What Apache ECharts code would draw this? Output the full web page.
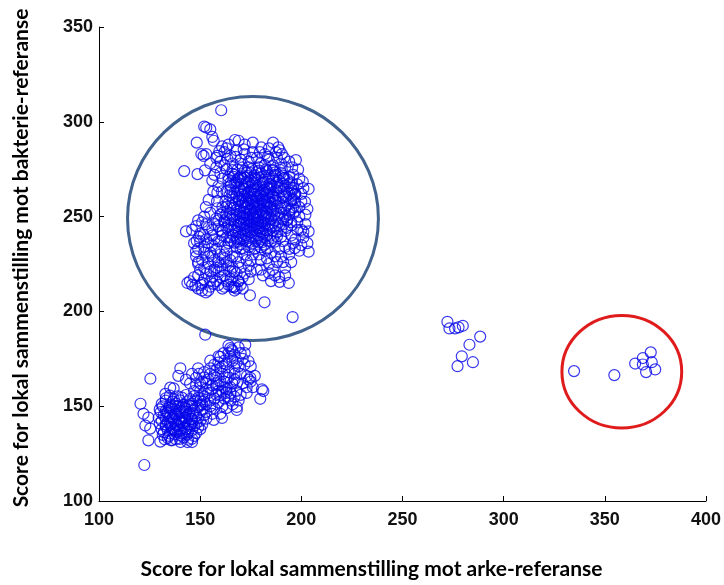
<!DOCTYPE html>
<html>
<head>
<meta charset="utf-8">
<title>Score for lokal sammenstilling</title>
<script src="https://cdn.jsdelivr.net/npm/echarts@6/dist/echarts.min.js"></script>
<style>
  html, body { margin: 0; padding: 0; background: #ffffff; }
  #chart { width: 724px; height: 585px; }
</style>
</head>
<body>
<div id="chart"></div>
<script>
// Axis ticks
const xTicks = [100, 150, 200, 250, 300, 350, 400];
const yTicks = [100, 150, 200, 250, 300, 350];

// Upper group: dense centre
const upperCore = [
  [166,272.5],[170,271.2],[173,273.1],[177,271.8],[180,272.9],[184,271.4],[187,273.3],[191,271.6],
  [164,269.3],[168,268.4],[171,269.9],[175,268.7],[178,269.5],[182,268.2],[186,270.1],[189,268.9],[193,269.6],
  [165,266.2],[169,265.4],[172,266.8],[176,265.9],[179,266.6],[183,265.1],[185,267.0],[188,265.7],[192,266.4],[195,265.2],
  [163,263.4],[167,262.6],[170,263.8],[174,262.9],[177,263.5],[180,262.2],[182,264.0],[186,262.8],[190,263.3],[194,262.1],
  [166,260.3],[169,259.5],[172,260.9],[175,259.8],[178,260.6],[181,259.2],[184,261.0],[187,259.7],[191,260.4],[195,259.1],
  [164,257.2],[167,256.5],[171,257.8],[174,256.7],[176,257.6],[179,256.2],[182,258.0],[185,256.8],[189,257.3],[193,256.1],[197,257.5],
  [165,254.4],[168,253.6],[172,254.9],[175,253.8],[177,254.6],[180,253.2],[183,255.0],[186,253.7],[190,254.3],[194,253.1],
  [163,251.3],[166,250.5],[170,251.9],[173,250.8],[176,251.6],[178,250.2],[181,252.0],[184,250.7],[188,251.4],[192,250.2],[196,251.5],
  [165,248.3],[169,247.5],[172,248.8],[174,247.7],[177,248.6],[180,247.2],[183,249.0],[187,247.8],[191,248.4],[195,247.1],
  [164,245.2],[167,244.4],[170,245.9],[173,244.8],[176,245.6],[179,244.2],[182,246.0],[185,244.7],[189,245.3],[193,244.1],
  [166,242.3],[169,241.5],[172,242.8],[175,241.7],[178,242.6],[181,241.2],[184,243.0],[188,241.8],[192,242.4],
  [165,239.2],[168,238.4],[171,239.8],[174,238.7],[177,239.6],[180,238.2],[183,240.0],[186,238.8],[190,239.4],
  [167,236.3],[170,235.5],[173,236.9],[176,235.8],[179,236.6],[182,235.2],[185,237.0],
  [171.5,264.8],[175.5,264.1],[178.5,265.2],[181.5,264.3],[184.5,264.9],
  [170.5,261.6],[173.5,261.1],[176.5,262.0],[179.5,261.3],[183,261.8],[186,261.0],
  [169.5,258.7],[172.5,258.2],[175.5,259.0],[178,258.4],[180.5,258.9],[183.5,258.1],[187,258.6],
  [170,255.7],[173,255.2],[176,256.1],[178.5,255.4],[181.5,255.9],[184.5,255.1],
  [169,252.8],[172,252.3],[174.5,253.1],[177.5,252.5],[180,253.0],[182.5,252.2],[186,252.7],
  [171,249.7],[174,249.2],[176.5,250.0],[179,249.4],[182,249.9],[185,249.1],
  [170,246.8],[173,246.3],[175.5,247.1],[178.5,246.5],[181,247.0],[184,246.2],
  [172,243.8],[175,243.2],[178,244.0],[181,243.4],
  [161,255],[160,251],[162,248],[159,245],[161,242],[163,239],[160,237],[162,234]
];

// Upper group: second layer of the centre
const upperCore2 = [
  [168.5,274.8],[172,274.1],[175.5,275.0],[179,274.3],[182.5,274.9],[186,274.2],[189.5,274.6],
  [166.5,270.9],[170,270.4],[173.5,271.3],[177,270.6],[180.5,271.0],[184,270.3],[187.5,271.2],[191.5,270.5],
  [167,267.8],[170.5,267.2],[174,267.9],[177.5,267.1],[181,267.7],[184.5,267.3],[188,268.0],[191,267.2],[194,267.6],
  [165,264.3],[168.5,263.7],[172,264.5],[175,263.8],[178,264.2],[181,263.6],[184,264.4],[187.5,263.9],[191.5,264.6],[195.5,263.7],
  [164.5,261.2],[168,260.7],[171,261.4],[174,260.6],[177,261.3],[180,260.8],[183,261.5],[186,260.5],[189,261.1],[192.5,260.7],[196.5,261.3],
  [162.5,258.0],[166,257.4],[169,258.2],[172.5,257.6],[175.5,258.1],[178.5,257.3],[181.5,258.0],[184.5,257.5],[187.5,258.3],[191,257.6],[195,258.1],
  [163,255.1],[166.5,254.5],[170,255.3],[173,254.6],[176,255.0],[179,254.4],[182,255.2],[185,254.7],[188,255.4],[192,254.5],[196,255.0],
  [164.5,251.8],[168,251.2],[171.5,252.0],[174.5,251.3],[177.5,251.9],[180,251.1],[183,251.7],[186.5,251.2],[190,252.0],[194,251.3],
  [163,249.0],[166.5,248.4],[170,249.2],[173,248.5],[176,249.1],[178.5,248.3],[181.5,249.0],[185,248.6],[189,249.3],[193,248.5],
  [165.5,245.8],[168.5,245.1],[171.5,246.0],[174.5,245.3],[177.5,245.9],[180.5,245.2],[183.5,245.7],[187,245.1],[191,245.9],[195,245.3],
  [164,243.0],[167.5,242.4],[170.5,243.2],[173.5,242.5],[176.5,243.1],[179.5,242.3],[182.5,242.9],[186,242.6],[190,243.3],
  [166.5,240.0],[169.5,239.4],[172.5,240.2],[175.5,239.5],[178.5,240.1],[181.5,239.3],[184.5,239.9],[188,239.6],
  [165,237.2],[168.5,236.7],[171.5,237.4],[174.5,236.6],[177.5,237.1],[180.5,236.5],[183.5,237.3],[187,236.8],
  [168,233.7],[171,233.2],[174,233.9],[177,233.3],[180,233.8],[183,233.1]
];

// Upper group: top part
const upperTop = [
  [158,281],[160,279],[162,284],[165,282],[166,278],[168,285],[170,280],[172,283],[174,279],[176,284],
  [178,281],[180,278],[182,283],[184,280],[186,277],[188,281],[190,278],[192,276],[194,279],[196,272],
  [163,275],[167,272],[171,276],[175,273],[179,276],[183,274],[187,272],[191,270],[195,268],[199,270],
  [161,270],[165,268],[169,270],[173,268],[177,270],[181,268],[185,266],[189,265],[193,263],[197,262],
  [201,265],[159,266],[157,272],[155,278],[153,283],[164,288],[172,288],[184,286],[169,290],[176,289],
  [159.5,284.5],[163.5,280.5],[167.5,281.5],[171.5,285.5],[175.5,281],[179.5,284],[183.5,281.5],[187.5,284],
  [191.5,281],[195.5,276],[162,277],[166,274.5],[170,278],[174,276],[178,273.5],[182,277],[186,274.5],
  [190,273],[194,271],[198,267],[158,276],[156,269],[160,273],[164,271],[168,267.5],[172,270.5],
  [176,267.5],[196,265],[200,262],[186,289]
];

// Upper group: lower-left lobe and lower-right side
const upperLower = [
  [148,245],[151,247],[154,244],[157,246],[160,243],[162,247],[150,241],[153,238],[156,240],[159,237],[161,240],[164,236],
  [147,236],[149,233],[152,234],[155,231],[158,233],[160,230],[163,232],[166,229],[148,229],[151,227],[154,225],[157,227],
  [160,224],[163,226],[166,223],[169,226],[150,222],[153,220],[156,218],[159,221],[162,219],[165,217],[168,220],[171,218],
  [147,218],[151,215],[155,213],[158,216],[161,212],[164,214],[167,211],[170,214],
  [152,250],[155,252],[158,249],[161,252],[163,244],[156,235],[162,228],[157,222],[149,225],[154,229],[159,214],[165,221],
  [146,243],[149,248],[153,246],[156,243],[159,248],[150,237],[154,236],[157,238],[152,231],[156,229],
  [159,226],[162,230],[165,227],[168,229],[149,226],[152,223],[155,221],[158,223],[161,222],[164,224],
  [167,221],[170,223],[149,219],[152,217],[155,216],[160,218],[163,216],[166,218],[169,216],[172,220],
  [146,214],[149,212],[154,211],[162,213],[168,212],[171,212],[174,217],[175,221],[173,227],[170,238],
  [197,262],[200,258],[203,254],[199,250],[202,246],[198,243],[201,239],[196,236],[199,232],[194,230],[192,234],[195,240],
  [193,248],[197,253],[200,243],[203,236],[190,229],[188,226],[192,223],[186,222],[189,218],[184,225],[180,227],[176,230],
  [178,222],[174,224],[181,219],[185,231],[189,233],[182,232],[172,230],[170,233],[177,233],
  [196,259],[199,255],[202,251],[195,254],[198,247],[201,242],[197,238],[200,235],[194,233],[191,237],
  [191,226],[195,226],[187,229],[183,228],[179,230],[175,227],[187,219],[192,219],[185,216],[180,222]
];

// Upper group: scattered points on the rim
const upperRim = [
  [160.4,306.1],[152,297.5],[153,297],[155,296],[156,292],[148.3,289],[156.7,290],[167.2,290.4],[160.8,287],
  [142.1,274],[148.7,272.4],[152.4,274.4],[150.6,283],[151.7,282],[158.5,282],[163,286],[180.2,286.5],
  [188.6,286.5],[189.3,285],[190.4,283],[197.3,279.8],[198.4,274.8],[200.7,268.5],[203.6,264.6],[201.8,257.8],
  [203.6,242.2],[203.6,231.5],[196.8,233.4],[143,242.2],[147.9,231.5],[144.9,215.9],[143.7,215],[152.8,210],
  [150.5,214],[174.6,208.5],[181.8,204.8],[195.7,197],[193.8,215],[189.3,215.6],[184,220.2],[165.4,213],
  [167,213],[168.8,215.9],[158.5,254.4],[152.8,255],[158.5,262.7],[148.3,237.3],[149.5,239.3],[151.7,240.3],
  [156.5,263.3],[160.8,263.3],[154.2,258.8],[158.3,258],[147.6,213.6],[150.9,211],[156.6,214.5],[166.5,212.8]
];

// Lower group: dense centre
const lowerCore = [
  [133,154.2],[137,153.6],[141,154.5],[145,153.8],[149,154.4],
  [131,151.2],[135,150.6],[138,151.5],[142,150.8],[146,151.4],[150,150.7],
  [130,148.3],[133,147.6],[136,148.5],[140,147.7],[143,148.4],[147,147.8],[151,148.2],
  [132,145.2],[135,144.6],[138,145.5],[141,144.7],[144,145.4],[148,144.8],[152,145.3],
  [131,142.3],[134,141.6],[137,142.5],[140,141.7],[143,142.4],[146,141.8],[150,142.2],
  [133,139.2],[136,138.6],[139,139.5],[142,138.7],[145,139.4],[149,138.8],
  [132,136.3],[135,135.6],[138,136.5],[141,135.7],[144,136.4],[148,135.8],
  [134,133.2],[138,132.6],[142,133.5],[146,132.8],
  [135.5,149.5],[139,150],[142.5,149.2],[146,150.3],[134,146.5],[137.5,146],[141,147],[144.5,146.3],
  [136,143.4],[139.5,143],[142.5,144],[146,143.2],[135,140.3],[138,140],[141,141],[144,140.4],
  [147,139.6],[137,137.4],[140,137],[143,138],
  [135,155.6],[139,155.2],[143,155.9],[147,155.3],[151,155.7],
  [133,152.9],[136.5,152.4],[140,153.1],[144,152.6],[148,153.0],[152,152.5],
  [131.5,149.9],[134.5,149.3],[138,150.1],[141.5,149.6],[145,150.0],[149,149.4],
  [130.5,146.9],[133.5,146.4],[137,147.1],[140,146.5],[143,147.0],[146.5,146.3],[150,146.8],
  [129.5,143.9],[133,143.4],[136.5,144.1],[139.5,143.5],[142.5,144.0],[145.5,143.3],[149,143.8],[153,143.4],
  [130,140.9],[133,140.3],[136,141.1],[139,140.5],[142,141.0],[145,140.4],[148,140.9],[151,140.3],
  [131,137.9],[134,137.3],[137,138.1],[140,137.5],[143,138.0],[146,137.4],[150,137.9],
  [131.5,134.9],[134.5,134.4],[137.5,135.1],[140.5,134.5],[143.5,135.0],[147,134.3],
  [132.5,132.6],[136,132.2],[140,132.8],[144,132.3]
];

// Lower group: diagonal band towards the upper right
const lowerBand = [
  [152,155],[155,153],[158,156],[153,159],[156,161],[159,158],[162,160],[154,164],[157,166],[160,163],
  [163,165],[166,162],[158,169],[161,171],[164,168],[167,170],[170,167],[162,174],[165,176],[168,173],
  [171,175],[166,179],[169,181],[164,182],[160,176],[157,172],[150,158],[148,161],[151,163],[155,150],
  [159,152],[162,154],[165,157],[168,158],[171,162],[174,164],[173,157],[176,160],[177,166],[175,171],
  [172,178],[150,153],[153,147],[156,146],[160,146],[163,149],[166,151],[169,153],[148,165],[152,168],
  [146,167],[143,164],[149,170],[155,174],[167,164],[163,159],
  [151,151],[154,157],[157,154],[160,156],[163,157],[153,162],[156,159],[159,161],[162,163],[165,160],
  [155,167],[158,165],[161,167],[164,165],[167,167],[160,170],[163,172],[166,174],[169,171],[172,172],
  [164,178],[167,177],[170,178],[158,162],[161,158],[164,155],[167,155],[170,156],[173,160],[175,163],
  [152,165],[150,162],[147,158],[145,162],[155,170],[159,173],[153,151],[157,149],[161,150],[165,153]
];

// Lower group: scattered points
const lowerRim = [
  [122.4,119],[120.5,151.3],[122,146],[124.4,144],[122.9,139.8],[125.3,138.2],[124.4,132],[130.3,131.3],
  [125.4,164.5],[152.5,187.7],[164.9,180.6],[165.7,179.8],[172.3,182.4],[180.5,158.9],[181.2,158],
  [179.7,153.9],[173.9,173.7],[173.1,165.9],[174.8,165],[168.2,162.4],[159.1,176.3],[161.6,178],
  [140.2,170],[139.2,166],[132.8,156.5],[135.2,159.8],[136.9,159.4],[149.4,167],[156.7,142.8],
  [160.8,143.8],[168.1,148],[168.1,149.6],[146,131.1],[143.7,131.1],[140.3,131.1],[135.8,132]
];

// Middle group
const middleGroup = [
  [272.2,194.5],[273.2,191],[276,191],[277.7,191.6],[279.8,192.4],[288.4,186.7],
  [283.1,182.4],[279.3,176.3],[284.8,173.2],[277.2,171.1]
];

// Right-hand group
const rightGroup = [
  [334.8,168.5],[354.7,166.4],[365,172.5],[368.8,175.4],[372.7,178.4],
  [373.2,173.2],[370.4,168],[374.9,169.4],[368.8,172]
];

// Highlight rings: centre x, centre y, half-width, half-height (axis units)
const rings = [
  [176.1, 249.0, 62.0, 64.4],
  [358.4, 168.2, 29.6, 29.7]
];
const ringColors = ['#41628c', '#e01b1b'];

const allPoints = [].concat(
  upperCore, upperCore2, upperTop, upperLower, upperRim,
  lowerCore, lowerBand, lowerRim, middleGroup, rightGroup
);

const chart = echarts.init(document.getElementById('chart'), null, { renderer: 'canvas' });

const axisText = { fontFamily: 'Liberation Sans', fontSize: 18, fontWeight: 'bold', color: '#111' };
const nameText = { fontFamily: 'Lato', fontWeight: 'bold', fontSize: 21, color: '#000' };

chart.setOption({
  animation: false,
  backgroundColor: '#ffffff',
  grid: { left: 99, right: 18, top: 27, bottom: 79 },
  xAxis: {
    type: 'value',
    min: xTicks[0], max: xTicks[xTicks.length - 1], interval: xTicks[1] - xTicks[0],
    name: 'Score for lokal sammenstilling mot arke-referanse',
    nameLocation: 'middle', nameGap: 58,
    nameTextStyle: Object.assign({ padding: [0, 62, 0, 0] }, nameText),
    axisLine: { lineStyle: { color: '#000', width: 1 } },
    axisTick: { inside: true, length: 5, lineStyle: { color: '#000' } },
    axisLabel: Object.assign({ margin: 10 }, axisText),
    splitLine: { show: false }
  },
  yAxis: {
    type: 'value',
    min: yTicks[0], max: yTicks[yTicks.length - 1], interval: yTicks[1] - yTicks[0],
    name: 'Score for lokal sammenstilling mot bakterie-referanse',
    nameLocation: 'middle', nameGap: 67, nameRotate: 90,
    nameTextStyle: Object.assign({ padding: [0, 0, 0, 12] }, nameText),
    axisLine: { lineStyle: { color: '#000', width: 1 } },
    axisTick: { inside: true, length: 5, lineStyle: { color: '#000' } },
    axisLabel: Object.assign({ margin: 6 }, axisText),
    splitLine: { show: false }
  },
  series: [
    {
      type: 'scatter',
      data: allPoints,
      symbol: 'circle',
      symbolSize: 11,
      itemStyle: { color: 'rgba(0,0,0,0)', borderColor: '#0606ea', borderWidth: 1.2 },
      emphasis: { disabled: true }
    },
    {
      type: 'custom',
      data: rings,
      clip: false,
      silent: true,
      renderItem: function (params, api) {
        const c = api.coord([api.value(0), api.value(1)]);
        const s = api.size([api.value(2), api.value(3)]);
        return {
          type: 'ellipse',
          shape: { cx: c[0], cy: c[1], rx: s[0], ry: s[1] },
          style: { fill: 'none', stroke: ringColors[params.dataIndex], lineWidth: 3 }
        };
      }
    }
  ]
});
</script>
</body>
</html>
